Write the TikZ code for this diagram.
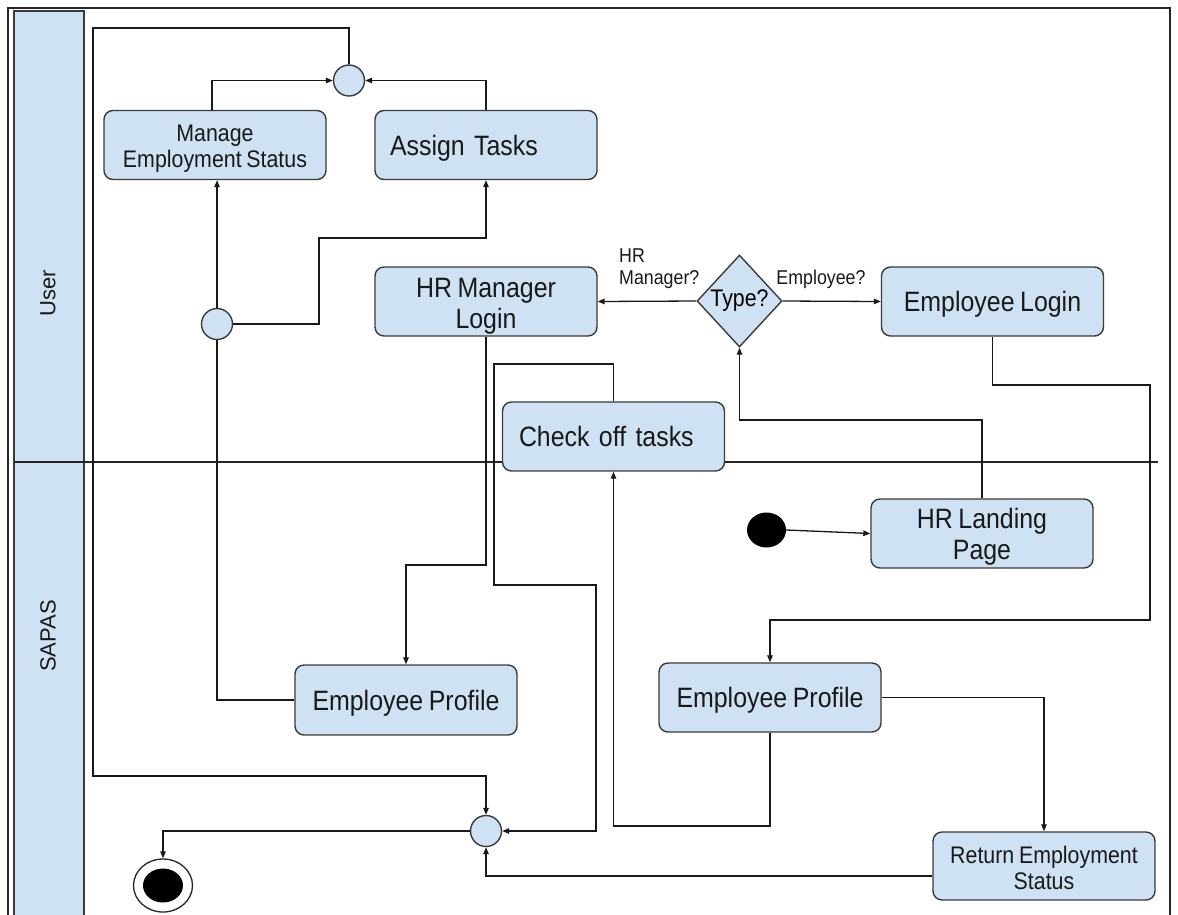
\documentclass[tikz,border=0pt]{standalone}
\usepackage{fontspec}
\setmainfont{Liberation Sans}[FakeStretch=0.89, WordSpace=0.8]
\newfontfamily\lanefont{Liberation Sans}
\usetikzlibrary{arrows.meta,shapes.geometric}
\definecolor{fillblue}{HTML}{CFE2F3}
\definecolor{rim}{HTML}{3A3A3A}
\newcommand{\actfont}{\fontsize{28}{31}\selectfont}
\newcommand{\actsmallfont}{\fontsize{24}{26}\selectfont}
\newcommand{\guardfont}{\fontsize{20}{22}\selectfont}
% invisible strut that lowers the first line of a two-line label
\newcommand{\lift}[1]{\rule{0pt}{#1pt}}
\tikzset{
  frameline/.style={draw=black!85, line width=1.3pt},
  header/.style={draw=rim, fill=fillblue, line width=1.3pt},
  act/.style={draw=rim, fill=fillblue, rounded corners=9pt, line width=1.4pt,
    minimum width=222pt, minimum height=69pt, inner sep=0pt, align=center,
    font=\actfont, text=black!90},
  oneline/.style={text height=26pt, text depth=6pt},
  actsmall/.style={act, font=\actsmallfont},
  actleft/.style={act, align=left, inner xsep=15pt, text width=192pt},
  junction/.style={circle, draw=rim, fill=fillblue, line width=1.4pt,
    minimum size=31pt, inner sep=0pt},
  decision/.style={diamond, draw=rim, fill=fillblue, line width=1.4pt,
    minimum width=85pt, minimum height=92pt, inner sep=0pt, font=\fontsize{24}{26}\selectfont},
  guard/.style={font=\guardfont, text=black!90, align=left, inner sep=0pt},
  flow/.style={draw=black!90, line width=1.3pt},
  arr/.style={flow, -{Triangle[length=7pt,width=5.5pt]}},
  lanelabel/.style={rotate=90, font=\lanefont\fontsize{22}{24}\selectfont, text=black!90}
}
\begin{document}
\begin{tikzpicture}[x=1pt,y=-1pt]
\useasboundingbox (0,0) rectangle (1178,914);
\clip (0,0) rectangle (1178,914);

% swimlane pool and headers
\draw[frameline] (8,930) -- (8,8) -- (1170,8) -- (1170,930);
\draw[header] (14,11) rectangle (84,930);
\draw[frameline] (14,462) -- (1158,462);
\node[lanelabel] (userlane) at (48,293) {User};
\node[lanelabel] (sapaslane) at (48,636) {SAPAS};

% activities
\node[actsmall] (mes) at (215,145) {\lift{24}Manage\\Employment Status};
\node[actleft, oneline] (assign) at (486,145) {Assign Tasks};
\node[act] (hrml) at (486,301.5) {\lift{29}HR Manager\\Login};
\node[act, oneline] (elogin) at (992.5,301.5) {Employee Login};
\node[actleft, oneline, inner xsep=16pt, text width=189pt] (checkoff) at (613.5,436.5) {Check off tasks};
\node[act] (landing) at (982,533.5) {\lift{27}HR Landing\\Page};
\node[act, oneline, minimum height=70pt] (eprofA) at (406,700) {Employee Profile};
\node[act, oneline] (eprofB) at (770,697.5) {Employee Profile};
\node[actsmall, minimum height=68pt] (retstat) at (1044,866) {\lift{21}Return Employment\\Status};

% control nodes
\node[junction] (topjoin) at (349,80.5) {};
\node[junction] (fork) at (217,324) {};
\node[junction] (botjoin) at (486,831) {};
\node[decision] (type) at (739.5,301) {Type?};
\node[ellipse, fill=black, minimum width=39pt, minimum height=35pt, inner sep=0pt] (start) at (766.5,530) {};
\node[ellipse, draw=black!85, fill=white, line width=1.3pt, minimum width=59pt, minimum height=53pt, inner sep=0pt] (finalouter) at (163,885.5) {};
\node[ellipse, fill=black, minimum width=40pt, minimum height=34pt, inner sep=0pt] (final) at (163,885.5) {};

% guard labels
\node[guard, anchor=west] (gmgr) at (619,269) {HR\\Manager?};
\node[guard] (gemp) at (821,279) {Employee?};

% transitions
\draw[arr] (start.east) -- (landing.west);
\draw[arr] (landing.north) |- (type.south |- 0,420) -- (type.south);
\draw[arr] (type.west) -- (hrml.east);
\draw[arr] (type.east) -- (elogin.west);
\draw[arr] (hrml.south) |- (eprofA.north |- 0,565) -- (eprofA.north);
\draw[flow] (eprofA.west) -| (fork.south);
\draw[arr] (fork.north) -- (fork.north |- mes.south);
\draw[arr] (fork.east) -| (319,238) -| (assign.south);
\draw[arr] ([xshift=-3pt]mes.north) |- (topjoin.west);
\draw[arr] (assign.north) |- (topjoin.east);
\draw[arr] (topjoin.north) |- (93,28) |- (botjoin.north |- 0,776) -- (botjoin.north);
\draw[arr] (elogin.south) |- (1150,385) |- (eprofB.north |- 0,620) -- (eprofB.north);
\draw[arr] (eprofB.south) |- (checkoff.south |- 0,826) -- (checkoff.south);
\draw[arr] (eprofB.east) -| (retstat.north);
\draw[arr] (checkoff.north) |- (494,364) |- (596,585) |- (botjoin.east);
\draw[arr] ([yshift=-10pt]retstat.west) -| (botjoin.south);
\draw[arr] (botjoin.west) -| (finalouter.north);
\end{tikzpicture}
\end{document}
